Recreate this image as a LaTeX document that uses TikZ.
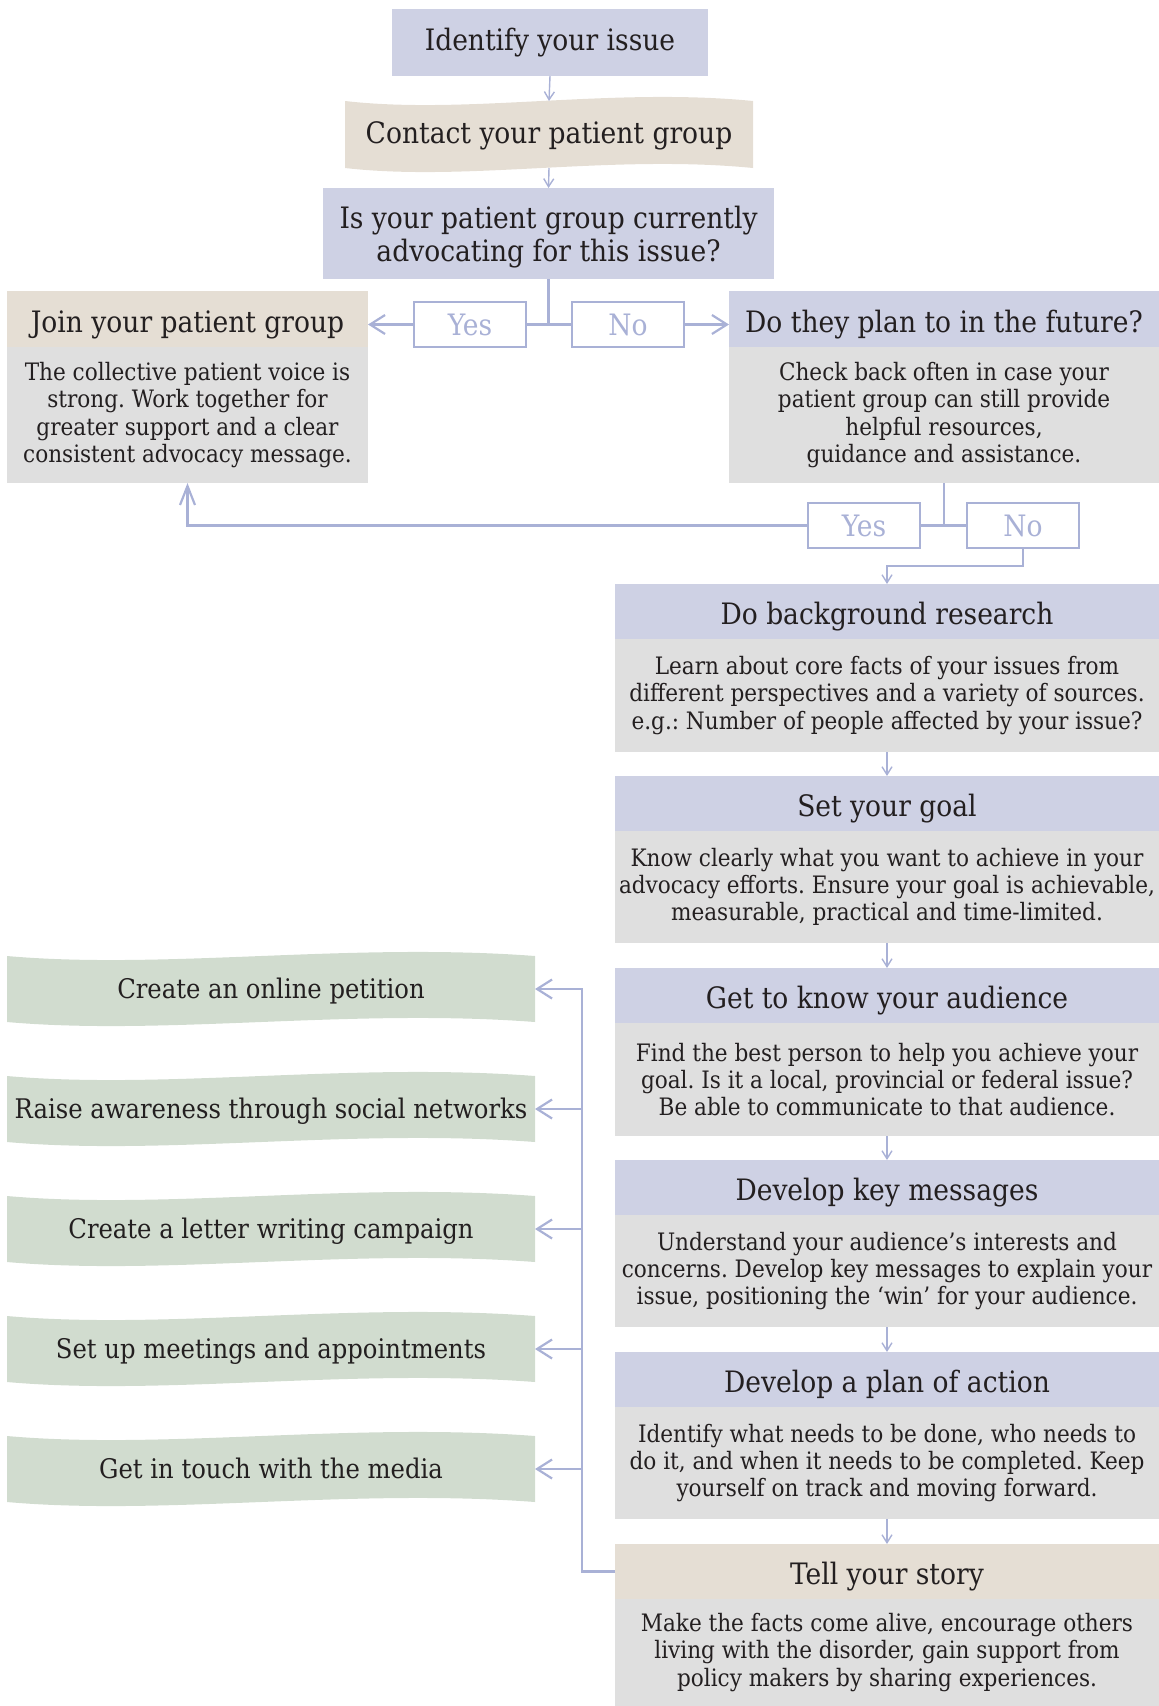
\documentclass[tikz,border=0pt]{standalone}
\usepackage{fontspec}
\setmainfont{DejaVu Serif Condensed}
\usetikzlibrary{arrows.meta,calc,backgrounds}
\definecolor{hdrc}{RGB}{206,209,228}
\definecolor{bodyc}{RGB}{223,223,223}
\definecolor{beigec}{RGB}{229,222,212}
\definecolor{greenc}{RGB}{209,220,207}
\definecolor{linec}{RGB}{169,177,214}
\definecolor{txtc}{RGB}{35,31,32}
\newcommand{\hfont}{\fontsize{29.5}{33}\selectfont}
\newcommand{\gfont}{\fontsize{27}{31}\selectfont}
\newcommand{\bfont}{\fontsize{24}{27.3}\selectfont}
\frenchspacing
\begin{document}
\frenchspacing
\begin{tikzpicture}[x=1pt,y=-1pt,
  every node/.style={text=txtc, inner sep=0pt, outer sep=0pt, anchor=north west},
  hdr/.style={fill=hdrc, font=\hfont, minimum height=55, text height=26pt, text depth=0pt},
  bhdr/.style={fill=beigec, font=\hfont, minimum height=55, text height=26pt, text depth=0pt},
  bdy/.style={fill=bodyc, font=\bfont, align=center},
  rcol/.style={minimum width=544},
  banner/.style={font=\gfont, minimum width=528, minimum height=66, text depth=2pt},
  yn/.style={draw=linec, line width=2pt, fill=white, text=linec, font=\hfont, minimum width=112, minimum height=45},
  conn/.style={draw=linec, line width=2.2pt},
  bigarrow/.style={conn, -{Straight Barb[length=15pt,width=19pt]}},
  uparrow/.style={conn, -{Straight Barb[length=19pt,width=15pt]}},
  smallarrow/.style={draw=linec, line width=1.4pt, -{Straight Barb[length=8pt,width=10pt]}}
]
\useasboundingbox (0,0) rectangle (1159,1706);

% top chain
\node[fill=hdrc, font=\hfont, minimum width=316, minimum height=67] (identify) at (392,9) {Identify your issue};
\node[font=\hfont, minimum width=408, minimum height=67, text depth=4pt] (contact) at (345,101) {Contact your patient group};
\node[fill=hdrc, font=\hfont, align=center, minimum width=451, minimum height=91, text depth=0pt] (question) at (323,188) {Is your patient group currently\\advocating for this issue?};

% join / plan
\node[bhdr, minimum width=361, minimum height=56] (join) at (7,291) {Join your patient group};
\node[bdy, minimum width=361, minimum height=136] (joinbody) at (7,347) {The collective patient voice is\\strong. Work together for\\greater support and a clear\\consistent advocacy message.};
\node[yn] (yes1) at (414,302) {Yes};
\node[yn] (no1) at (572,302) {No};
\node[hdr, minimum width=430, minimum height=56] (future) at (729,291) {Do they plan to in the future?};
\node[bdy, minimum width=430, minimum height=136] (futurebody) at (729,347) {Check back often in case your\\patient group can still provide\\helpful resources,\\guidance and assistance.};
\node[yn] (yes2) at (808,503) {Yes};
\node[yn] (no2) at (967,503) {No};

% right column
\node[hdr, rcol] (bg) at (615,584) {Do background research};
\node[bdy, rcol, minimum height=113] (bgbody) at (615,639) {Learn about core facts of your issues from\\different perspectives and a variety of sources.\\e.g.: Number of people affected by your issue?};
\node[hdr, rcol] (goal) at (615,776) {Set your goal};
\node[bdy, rcol, minimum height=112] (goalbody) at (615,831) {Know clearly what you want to achieve in your\\advocacy efforts. Ensure your goal is achievable,\\measurable, practical and time-limited.};
\node[hdr, rcol] (aud) at (615,968) {Get to know your audience};
\node[bdy, rcol, minimum height=113] (audbody) at (615,1023) {Find the best person to help you achieve your\\goal. Is it a local, provincial or federal issue?\\Be able to communicate to that audience.};
\node[hdr, rcol] (key) at (615,1160) {Develop key messages};
\node[bdy, rcol, minimum height=112] (keybody) at (615,1215) {Understand your audience’s interests and\\concerns. Develop key messages to explain your\\issue, positioning the ‘win’ for your audience.};
\node[hdr, rcol] (plan) at (615,1352) {Develop a plan of action};
\node[bdy, rcol, minimum height=112] (planbody) at (615,1407) {Identify what needs to be done, who needs to\\do it, and when it needs to be completed. Keep\\yourself on track and moving forward.};
\node[bhdr, rcol] (story) at (615,1544) {Tell your story};
\node[bdy, rcol, minimum height=107] (storybody) at (615,1599) {Make the facts come alive, encourage others\\living with the disorder, gain support from\\policy makers by sharing experiences.};

% left banners
\node[banner] (g1) at (7,956) {Create an online petition};
\node[banner] (g2) at (7,1076) {Raise awareness through social networks};
\node[banner] (g3) at (7,1196) {Create a letter writing campaign};
\node[banner] (g4) at (7,1316) {Set up meetings and appointments};
\node[banner] (g5) at (7,1436) {Get in touch with the media};

\begin{scope}[on background layer]
\foreach \nm/\cl in {contact/beigec, g1/greenc, g2/greenc, g3/greenc, g4/greenc, g5/greenc}{
  \fill[\cl] (\nm.north west)
    .. controls ($(\nm.north west)!0.3!(\nm.north east)+(0,14)$) and ($(\nm.north west)!0.65!(\nm.north east)+(0,-14)$) .. (\nm.north east)
    -- (\nm.south east)
    .. controls ($(\nm.south west)!0.65!(\nm.south east)+(0,-14)$) and ($(\nm.south west)!0.3!(\nm.south east)+(0,14)$) .. (\nm.south west)
    -- cycle;
}
\end{scope}

% connectors
\draw[smallarrow] (identify.south) -- (contact.north);
\draw[smallarrow] (contact.south) -- (question.north);
\draw[conn] (question.south) |- (yes1.east);
\draw[conn] (question.south) |- (no1.west);
\draw[bigarrow] (yes1.west) -- (yes1.west -| join.east);
\draw[bigarrow] (no1.east) -- (no1.east -| future.west);
\draw[conn] (futurebody.south) |- (yes2.east);
\draw[conn] (futurebody.south) |- (no2.west);
\draw[uparrow] (yes2.west) -| (joinbody.south);
\draw[smallarrow] (no2.south) -- ++(0,18) -| (bg.north);
\draw[smallarrow] (bgbody.south) -- (goal.north);
\draw[smallarrow] (goalbody.south) -- (aud.north);
\draw[smallarrow] (audbody.south) -- (key.north);
\draw[smallarrow] (keybody.south) -- (plan.north);
\draw[smallarrow] (planbody.south) -- (story.north);
\path (story.west) ++(-33,0) coordinate (busb);
\draw[bigarrow] (story.west) -- (busb) |- (g1.east);
\draw[bigarrow] (g2.east -| busb) -- (g2.east);
\draw[bigarrow] (g3.east -| busb) -- (g3.east);
\draw[bigarrow] (g4.east -| busb) -- (g4.east);
\draw[bigarrow] (g5.east -| busb) -- (g5.east);
\end{tikzpicture}
\end{document}
